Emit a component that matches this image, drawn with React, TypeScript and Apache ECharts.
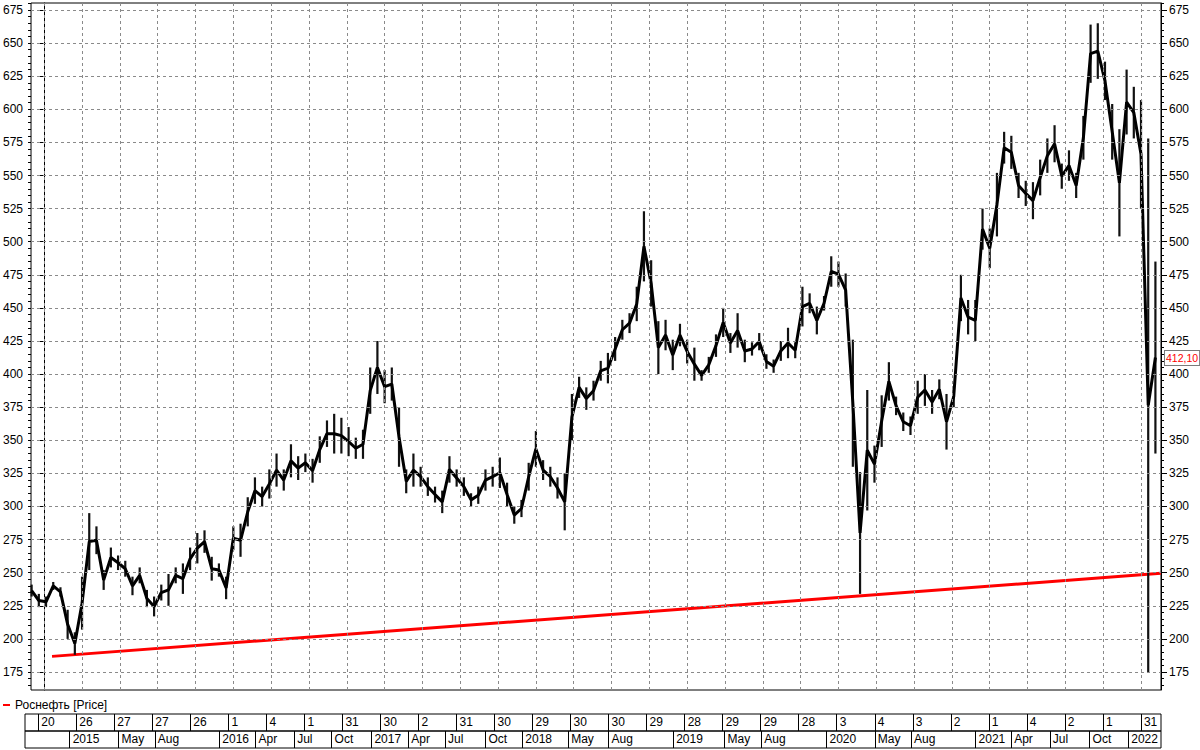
import React, { useEffect, useRef } from 'react';
import * as echarts from 'echarts';

const SERIES_NAME = 'Роснефть [Price]';
const LAST_PRICE_TEXT = '412,10';
const LAST_PRICE = 412.1;

// trading-day index of each sampled bar (sampling every 12 trading days)
const START_DAY = -21;
const STEP_DAYS = 12;

const priceHigh = [
  241, 234, 232, 243, 239, 222, 205, 247, 295, 285, 252, 269, 263, 259, 247, 254, 237, 232, 241, 249,
  254, 257, 269, 280, 282, 262, 257, 247, 285, 287, 307, 322, 315, 328, 340, 328, 347, 338, 340, 336,
  353, 365, 370, 367, 360, 352, 358, 405, 425, 403, 405, 375, 328, 340, 330, 322, 315, 312, 338, 328,
  322, 310, 315, 328, 330, 337, 318, 300, 305, 333, 357, 335, 330, 322, 325, 385, 398, 390, 395, 410,
  416, 428, 441, 446, 466, 523, 486, 440, 441, 426, 438, 426, 420, 403, 413, 430, 450, 431, 446, 426,
  424, 431, 415, 411, 425, 435, 424, 466, 461, 451, 459, 489, 485, 476, 426, 326, 388, 346, 384, 409,
  383, 371, 368, 395, 400, 388, 396, 385, 391, 475, 456, 456, 525, 510, 552, 583, 580, 552, 546, 545,
  562, 578, 588, 559, 569, 552, 595, 664, 665, 636, 604, 585, 630, 617, 607, 578, 485,
];
const priceLow = [
  232, 224, 224, 237, 232, 200, 188, 207, 252, 264, 237, 254, 252, 247, 233, 242, 224, 217, 229, 225,
  242, 234, 252, 257, 265, 244, 247, 230, 267, 262, 285, 302, 300, 306, 315, 312, 322, 320, 326, 318,
  333, 345, 340, 340, 338, 336, 336, 370, 385, 378, 380, 330, 310, 315, 315, 308, 303, 295, 318, 315,
  308, 300, 302, 312, 315, 314, 300, 287, 292, 312, 330, 320, 315, 306, 282, 350, 382, 373, 380, 395,
  393, 410, 426, 431, 440, 470, 451, 400, 418, 403, 421, 408, 395, 395, 401, 413, 428, 416, 420, 409,
  414, 418, 404, 401, 410, 412, 412, 436, 446, 430, 448, 466, 466, 451, 330, 234, 297, 318, 345, 380,
  369, 357, 354, 370, 376, 370, 381, 343, 375, 440, 430, 425, 494, 480, 504, 559, 555, 533, 527, 517,
  535, 552, 560, 540, 546, 533, 562, 620, 623, 607, 562, 504, 581, 578, 525, 175, 340,
];

// support (trend) line, [trading day, price]
const trendLine = [
  [13, 186.8],
  [1860, 249.5],
];

// axis ranges
const X_MIN = -22;
const X_MAX = 1860.3;
const Y_MIN = 161.4;
const Y_MAX = 680.3;

// top row of the date scale: one cell every 63 trading days
const GRID_STEP_DAYS = 63;
const dayLabels = [
  '20', '26', '27', '27', '26', '1', '4', '1', '31', '30', '2', '31', '30', '29', '30',
  '30', '29', '28', '29', '29', '28', '3', '4', '3', '2', '1', '4', '2', '1', '31',
];
// bottom row: month / year labels at their trading-day positions
const monthLabels = [
  '2015', 'May', 'Aug', '2016', 'Apr', 'Jul', 'Oct', '2017', 'Apr', 'Jul', 'Oct', '2018', 'May',
  'Aug', '2019', 'May', 'Aug', '2020', 'May', 'Aug', '2021', 'Apr', 'Jul', 'Oct', '2022',
];
const monthDays = [
  52, 133, 193, 300, 360, 424, 486, 552, 613, 674, 741, 802, 878,
  945, 1052, 1137, 1198, 1306, 1386, 1446, 1553, 1612, 1676, 1742, 1806,
];

const yMajorTicks = [175, 200, 225, 250, 275, 300, 325, 350, 375, 400, 425, 450, 475, 500, 525, 550, 575, 600, 625, 650, 675];

const FONT = "'Liberation Sans Narrow', 'Liberation Sans', Arial, sans-serif";

export default function App() {
  const ref = useRef<HTMLDivElement>(null);

  useEffect(() => {
    if (!ref.current) return;
    const chart = echarts.init(ref.current, null, { renderer: 'svg' });

    const gridDays = dayLabels.map((_, k) => k * GRID_STEP_DAYS);
    const dayLabelMap: Record<string, string> = {};
    gridDays.forEach((d, k) => (dayLabelMap[String(d)] = dayLabels[k]));
    const monthLabelMap: Record<string, string> = {};
    monthDays.forEach((d, k) => (monthLabelMap[String(d)] = monthLabels[k]));

    const minorTicks: number[] = [];
    for (let v = 165; v <= 680; v += 5) minorTicks.push(v);

    const bars = priceHigh.map((h, i) => [START_DAY + i * STEP_DAYS, priceLow[i], h]);
    const mids = priceHigh.map((h, i) => [START_DAY + i * STEP_DAYS, (h + priceLow[i]) / 2]);

    const majorAxis = (position: 'left' | 'right') => ({
      type: 'value',
      gridIndex: 0,
      position,
      min: Y_MIN,
      max: Y_MAX,
      axisLine: { show: true, lineStyle: { color: '#000', width: 1 } },
      axisTick: { show: true, length: 6, customValues: yMajorTicks, lineStyle: { color: '#000' } },
      axisLabel: {
        show: true,
        customValues: yMajorTicks,
        margin: 8,
        fontSize: 12,
        fontFamily: FONT,
        color: '#000',
      },
      splitLine: { show: false },
    });
    const minorAxis = (position: 'left' | 'right') => ({
      type: 'value',
      gridIndex: 0,
      position,
      min: Y_MIN,
      max: Y_MAX,
      axisLine: { show: false },
      axisTick: { show: true, length: 3, customValues: minorTicks, lineStyle: { color: '#000' } },
      axisLabel: { show: false },
      splitLine: { show: false },
    });

    const tableAxis = (gridIndex: number, values: number[], map: Record<string, string>) => ({
      type: 'value',
      gridIndex,
      min: X_MIN,
      max: X_MAX,
      position: 'bottom',
      axisLine: { show: false },
      axisTick: {
        show: true,
        inside: true,
        length: 17,
        customValues: values,
        lineStyle: { color: '#000', width: 1 },
      },
      axisLabel: {
        show: true,
        inside: true,
        customValues: values,
        formatter: (v: number) => map[String(v)] ?? '',
        align: 'left',
        padding: [0, 0, 0, 3],
        margin: 3,
        fontSize: 12,
        fontFamily: FONT,
        color: '#000',
      },
      splitLine: { show: false },
    });

    chart.setOption({
      animation: false,
      backgroundColor: '#fff',
      grid: [
        { left: 25, right: 39, top: 3, height: 687, show: true, borderColor: '#000', borderWidth: 1, backgroundColor: '#fff' },
        { left: 25, right: 39, top: 714, height: 17, show: true, borderColor: '#000', borderWidth: 1 },
        { left: 25, right: 39, top: 731, height: 17, show: true, borderColor: '#000', borderWidth: 1 },
      ],
      legend: {
        show: true,
        left: 3,
        top: 699,
        padding: 0,
        itemWidth: 7,
        itemHeight: 2,
        itemGap: 4,
        selectedMode: false,
        textStyle: { fontSize: 12, fontFamily: FONT, color: '#000' },
        data: [
          {
            name: SERIES_NAME,
            icon: 'rect',
            itemStyle: { color: '#ff0000' },
            lineStyle: { color: '#ff0000' },
          },
        ],
      },
      xAxis: [
        {
          type: 'value',
          gridIndex: 0,
          min: X_MIN,
          max: X_MAX,
          axisLine: { show: false },
          axisTick: { show: false },
          axisLabel: { show: false },
          splitLine: { show: false },
        },
        tableAxis(1, gridDays, dayLabelMap),
        tableAxis(2, monthDays, monthLabelMap),
      ],
      yAxis: [
        majorAxis('left'),
        minorAxis('left'),
        majorAxis('right'),
        minorAxis('right'),
        { type: 'value', gridIndex: 1, show: false, min: 0, max: 1 },
        { type: 'value', gridIndex: 2, show: false, min: 0, max: 1 },
      ],
      series: [
        {
          name: 'trend',
          type: 'line',
          xAxisIndex: 0,
          yAxisIndex: 0,
          data: trendLine,
          symbol: 'none',
          z: 1,
          lineStyle: { color: '#ff0000', width: 3 },
          markLine: {
            silent: true,
            symbol: ['none', 'none'],
            label: { show: false },
            lineStyle: { color: '#8a8a8a', type: [3, 3], width: 1 },
            data: [
              ...yMajorTicks.map((v) => ({ yAxis: v })),
              ...gridDays.map((d) => ({ xAxis: d })),
            ],
          },
        },
        {
          name: 'bars',
          type: 'custom',
          xAxisIndex: 0,
          yAxisIndex: 0,
          z: 3,
          data: bars,
          encode: { x: 0, y: [1, 2] },
          renderItem: (params: any, api: any) => {
            const x = api.value(0);
            const p1 = api.coord([x, api.value(1)]);
            const p2 = api.coord([x, api.value(2)]);
            return {
              type: 'line',
              shape: { x1: p1[0], y1: p1[1], x2: p2[0], y2: p2[1] },
              style: { stroke: '#111', lineWidth: 2.2 },
            };
          },
        },
        {
          name: SERIES_NAME,
          type: 'line',
          xAxisIndex: 0,
          yAxisIndex: 0,
          z: 3,
          data: mids,
          symbol: 'none',
          lineStyle: { color: '#000', width: 3 },
          markPoint: {
            symbol: 'rect',
            symbolSize: 0,
            silent: true,
            data: [
              {
                coord: [X_MAX, LAST_PRICE],
                label: {
                  show: true,
                  position: 'right',
                  distance: 4,
                  formatter: LAST_PRICE_TEXT,
                  color: '#ff0000',
                  backgroundColor: '#fff',
                  borderColor: '#7a7a7a',
                  borderWidth: 1,
                  padding: [2, 1, 1, 1],
                  fontSize: 10.5,
                  fontFamily: FONT,
                },
              },
            ],
          },
        },
      ],
    });

    return () => chart.dispose();
  }, []);

  return <div ref={ref} style={{ position: 'fixed', left: 0, top: 0, width: 1200, height: 750 }} />;
}
